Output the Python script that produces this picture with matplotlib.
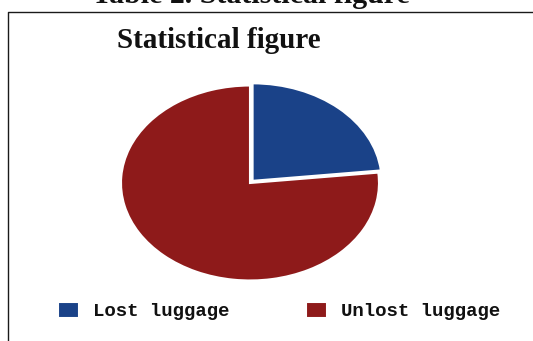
import matplotlib
matplotlib.use("Agg")
import matplotlib.pyplot as plt
from matplotlib.lines import Line2D

# Data
categories = ["Lost luggage", "Unlost luggage"]
shares = [23.3, 76.7]
colors = ["#1a4288", "#8e1a1a"]
explode = [0.03, 0.0]

W, H = 533, 341
fig = plt.figure(figsize=(W / 100, H / 100), dpi=100)

def fx(px):
    return px / W

def fy(py):
    return 1 - py / H

# frame lines (left + top)
fig.add_artist(Line2D([fx(8), fx(8), fx(533)], [fy(341), fy(12), fy(12)],
                      color="#1a1a1a", lw=1.0, transform=fig.transFigure))

# cropped caption at top
fig.text(fx(251), fy(3), "Table 2. Statistical figure", ha="center", va="baseline",
         family="Liberation Serif", weight="bold", fontsize=21.5, color="#111111")

# chart title
fig.text(fx(117), fy(48), "Statistical figure", ha="left", va="baseline",
         family="Liberation Serif", weight="bold", fontsize=21, color="#111111")

# pie axes (ellipse)
cx, cy, rx, ry, pad = 250, 183, 129, 97.5, 1.1
aw, ah = 2 * rx * pad, 2 * ry * pad
ax = fig.add_axes([fx(cx - aw / 2), 1 - (cy + ah / 2) / H, aw / W, ah / H])
wedges, _ = ax.pie(shares, colors=colors, explode=explode, startangle=90,
                   counterclock=False, radius=1.0,
                   wedgeprops=dict(edgecolor="white", linewidth=1.5))
ax.set_xlim(-pad, pad)
ax.set_ylim(-pad, pad)
ax.set_aspect("auto")
ax.axis("off")

leg = fig.legend(wedges, categories, loc="center left",
                 bbox_to_anchor=(fx(58), fy(311)), ncol=2, frameon=False,
                 prop=dict(family="Liberation Mono", size=13.7, weight="bold"),
                 handlelength=1.1, handleheight=0.9, handletextpad=0.74,
                 columnspacing=4.0, borderpad=0, borderaxespad=0)
for t in leg.get_texts():
    t.set_color("#111111")

fig.savefig("out.png", dpi=100)
